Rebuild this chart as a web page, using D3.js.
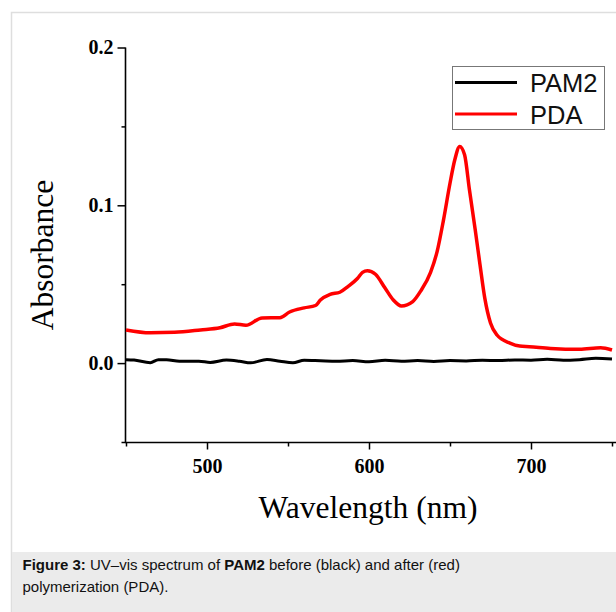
<!DOCTYPE html>
<html><head><meta charset="utf-8">
<script src="https://cdn.jsdelivr.net/npm/d3@7"></script>
<style>
body{margin:0;background:#fff;}
svg{display:block;}
</style></head>
<body>
<svg id="chart" width="616" height="612"></svg>
<script>
// Data
const pdaWavelength = [450,465,480,496,508,517,524,534,545,551,560,567,570,576,582,587,593,596,599,604,610,615,620,627,632,638,642,646,650,653,656,659,662,665.5,668.5,671.5,675,679,687,693,699,712,730,743,750];
const pdaAbsorbance = [0.0210,0.0192,0.0195,0.0210,0.0224,0.0248,0.0240,0.0286,0.0288,0.0324,0.0350,0.0365,0.0400,0.0436,0.0449,0.0485,0.0538,0.0575,0.0586,0.0563,0.0474,0.0400,0.0362,0.0390,0.0458,0.0575,0.0705,0.0908,0.1140,0.1290,0.1373,0.1320,0.1098,0.0850,0.0625,0.0410,0.0254,0.0178,0.0127,0.0108,0.0104,0.0093,0.0087,0.0097,0.0083];
const pamWavelength = [450,455,465,470,475,483,495,502,512,520,527,537,545,553,560,570,580,590,600,610,620,630,640,650,660,670,680,690,700,710,720,730,740,750];
const pamAbsorbance = [0.0022,0.0019,0.0003,0.0022,0.0022,0.0012,0.0012,0.0004,0.0019,0.0012,0.0002,0.0023,0.0012,0.0002,0.0018,0.0015,0.0012,0.0016,0.0008,0.0018,0.0012,0.0016,0.0010,0.0016,0.0014,0.0018,0.0016,0.0020,0.0018,0.0024,0.0018,0.0022,0.0030,0.0026];
const seriesNames = ["PAM2","PDA"];
const seriesColors = ["#000000","#ff0000"];
const xMajorTicks = [500,600,700];
const xMinorTicks = [450,550,650,750];
const yMajorTicks = [0.0,0.1,0.2];
const yMinorTicks = [-0.05,0.05,0.15];

const svg = d3.select("#chart");
const serif = "'Liberation Serif','Times New Roman',serif";
const sans = "'Liberation Sans',Arial,sans-serif";

// frame and caption band
svg.append("rect").attr("x",11.5).attr("y",12.5).attr("width",620).attr("height",620)
  .attr("fill","none").attr("stroke","#dedede").attr("stroke-width",1.5);
svg.append("rect").attr("x",12).attr("y",552).attr("width",604).attr("height",60).attr("fill","#ebebeb");

const x = d3.scaleLinear().domain([450,750]).range([126,612]);
const y = d3.scaleLinear().domain([-0.05,0.2]).range([442,47.5]);

const g = svg.append("g");

// axes
const fmt = d3.format(".1f");
const yAxis = g.append("g").attr("transform","translate(125.5,0)")
  .call(d3.axisLeft(y).tickValues(yMajorTicks).tickFormat(fmt).tickSize(8).tickPadding(4).tickSizeOuter(0));
g.append("g").attr("transform","translate(125.5,0)")
  .call(d3.axisLeft(y).tickValues(yMinorTicks).tickFormat("").tickSize(4).tickSizeOuter(0))
  .select(".domain").remove();
const xAxis = g.append("g").attr("transform","translate(0,442.5)")
  .call(d3.axisBottom(x).tickValues(xMajorTicks).tickFormat(d3.format("d")).tickSize(7).tickPadding(9).tickSizeOuter(0));
g.append("g").attr("transform","translate(0,442.5)")
  .call(d3.axisBottom(x).tickValues(xMinorTicks).tickFormat("").tickSize(4).tickSizeOuter(0))
  .select(".domain").remove();

svg.selectAll(".domain").attr("stroke","#000").attr("stroke-width",1.6);
svg.selectAll(".tick line").attr("stroke","#000").attr("stroke-width",1.5);
svg.selectAll(".tick text").attr("font-family",serif).attr("font-weight","bold").attr("font-size",20).attr("fill","#000");
// extend x domain line to right edge; y domain from top tick to x axis
xAxis.select(".domain").attr("d","M125,0H620");
yAxis.select(".domain").attr("d","M0,"+y(0.2)+"V443");

// lines
const line = d3.line().x(d=>x(d[0])).y(d=>y(d[1])).curve(d3.curveMonotoneX);
const pamData = pamWavelength.map((w,i)=>[w,pamAbsorbance[i]]);
const pdaData = pdaWavelength.map((w,i)=>[w,pdaAbsorbance[i]]);
g.append("path").datum(pamData).attr("d",line).attr("fill","none").attr("stroke",seriesColors[0]).attr("stroke-width",3);
g.append("path").datum(pdaData).attr("d",line).attr("fill","none").attr("stroke",seriesColors[1]).attr("stroke-width",3.5);

// axis titles
svg.append("text").attr("x",368).attr("y",518).attr("text-anchor","middle")
  .attr("font-family",serif).attr("font-size",31.5).text("Wavelength (nm)");
svg.append("text").attr("transform","translate(53,255) rotate(-90)").attr("text-anchor","middle")
  .attr("font-family",serif).attr("font-size",31.5).text("Absorbance");

// legend
const leg = svg.append("g");
leg.append("rect").attr("x",452.5).attr("y",66.5).attr("width",152).attr("height",63)
  .attr("fill","#fff").attr("stroke","#777").attr("stroke-width",1);
const legY = [82.5,114];
seriesNames.forEach((n,i)=>{
  leg.append("line").attr("x1",455).attr("x2",517).attr("y1",legY[i]).attr("y2",legY[i])
    .attr("stroke",seriesColors[i]).attr("stroke-width",3);
  leg.append("text").attr("x",530).attr("y",legY[i]+9.5).attr("font-family",sans).attr("font-size",25.5)
    .attr("fill","#111").text(n);
});

// caption
const cap = svg.append("text").attr("font-family",sans).attr("font-size",15).attr("fill","#111");
const l1 = cap.append("tspan").attr("x",22.5).attr("y",570);
l1.append("tspan").attr("font-weight","bold").text("Figure 3:");
l1.append("tspan").text(" UV\u2013vis spectrum of ");
l1.append("tspan").attr("font-weight","bold").text("PAM2");
l1.append("tspan").text(" before (black) and after (red)");
cap.append("tspan").attr("x",22.5).attr("y",592).text("polymerization (PDA).");
</script>
</body></html>
